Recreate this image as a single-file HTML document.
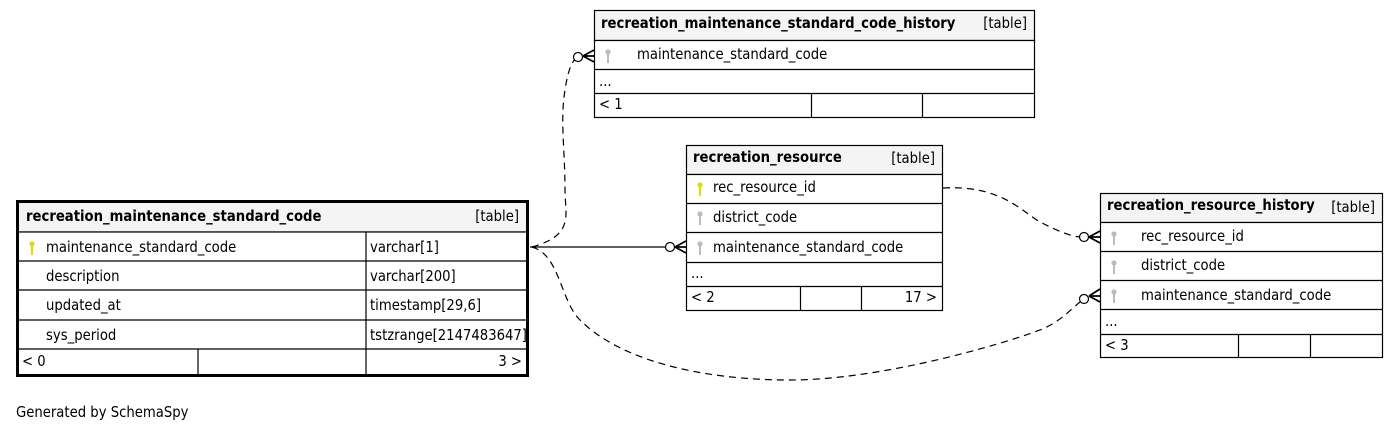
<!DOCTYPE html>
<html><head><meta charset="utf-8"><style>
html,body{margin:0;padding:0;background:#fff;}
svg{display:block;font-family:"DejaVu Sans Condensed","Liberation Sans",sans-serif;font-size:14.7px;}
.b{font-weight:bold;}
</style></head><body>
<svg width="1397" height="432" viewBox="0 0 1397 432" xmlns="http://www.w3.org/2000/svg">
<defs>
<g id="key"><circle cx="0" cy="-4" r="2.6"/><rect x="-1" y="-2" width="2" height="9"/></g>
</defs>
<g fill="none" stroke="#000" stroke-width="1.2">
<path d="M530,247 L670,247" stroke-width="1.3"/>
<path d="M532,247 C575,235 565,215 565,190 C565,150 560,120 565,90 C568,70 572,60 578,57" stroke-dasharray="7,5"/>
<path d="M943,188 C1000,185 1020,210 1040,222 C1060,232 1070,236 1080,237" stroke-dasharray="7,5"/>
<path d="M532,247 C560,255 560,300 580,320 C620,360 700,380 790,380 C880,380 1000,345 1040,330 C1060,322 1070,310 1080,302" stroke-dasharray="7,5"/>
</g>
<g fill="none" stroke="#000" stroke-width="1.8">
<circle cx="670" cy="247" r="4.5" fill="#fff" stroke-width="1.2"/>
<path d="M675,247 L686,241 M675,247 L686,253 M675,247 L686,247"/>
<circle cx="578" cy="57" r="4.5" fill="#fff" stroke-width="1.2"/>
<path d="M583,56 L594,50 M583,56 L594,62 M583,56 L594,56"/>
<circle cx="1084" cy="237" r="4.5" fill="#fff" stroke-width="1.2"/>
<path d="M1089,237 L1100,231 M1089,237 L1100,243 M1089,237 L1100,237"/>
<circle cx="1084" cy="299" r="4.5" fill="#fff" stroke-width="1.2"/>
<path d="M1089,296 L1100,289 M1089,296 L1100,302 M1089,296 L1100,296"/>
</g>

<g stroke="#000" stroke-width="1.2">
<rect x="18" y="202" width="509" height="30" fill="#f4f4f4"/>
<rect x="18" y="232" width="509" height="143" fill="#fff"/>
<path d="M18,261 H527 M18,290 H527 M18,320 H527 M18,349 H527 M366,232 V375 M198,349 V375" fill="none"/>
<rect x="17.5" y="201.5" width="510" height="174" fill="none" stroke-width="3"/>
</g>
<use href="#key" x="32" y="248" fill="#dede00"/>
<text x="26" y="221" class="b">recreation_maintenance_standard_code</text>
<text x="519" y="221" text-anchor="end">[table]</text>
<text x="46" y="252">maintenance_standard_code</text><text x="370" y="252">varchar[1]</text>
<text x="46" y="281">description</text><text x="370" y="281">varchar[200]</text>
<text x="46" y="310">updated_at</text><text x="370" y="310">timestamp[29,6]</text>
<text x="46" y="340">sys_period</text><text x="370" y="340">tstzrange[2147483647]</text>
<text x="22" y="366">&lt; 0</text><text x="522" y="366" text-anchor="end">3 &gt;</text>

<g stroke="#000" stroke-width="1.2">
<rect x="594.5" y="10.5" width="440" height="30" fill="#f4f4f4"/>
<rect x="594.5" y="40.5" width="440" height="77" fill="#fff"/>
<path d="M594,69.5 H1035 M594,93.5 H1035 M811.5,93 V117 M922.5,93 V117" fill="none"/>
</g>
<use href="#key" x="608" y="56" fill="#bbb"/>
<text x="601" y="28" class="b">recreation_maintenance_standard_code_history</text>
<text x="1027" y="28" text-anchor="end">[table]</text>
<text x="637" y="59">maintenance_standard_code</text>
<text x="599" y="86">...</text>
<text x="599" y="109">&lt; 1</text>

<g stroke="#000" stroke-width="1.2">
<rect x="686.5" y="145.5" width="256" height="29" fill="#f4f4f4"/>
<rect x="686.5" y="174.5" width="256" height="136" fill="#fff"/>
<path d="M686,203.5 H943 M686,232.5 H943 M686,262.5 H943 M686,286.5 H943 M800.5,286 V311 M861.5,286 V311" fill="none"/>
</g>
<use href="#key" x="700" y="189" fill="#dede00"/>
<use href="#key" x="700" y="218" fill="#bbb"/>
<use href="#key" x="700" y="248" fill="#bbb"/>
<text x="693" y="162" class="b">recreation_resource</text>
<text x="935" y="163" text-anchor="end">[table]</text>
<text x="713" y="192">rec_resource_id</text>
<text x="713" y="222">district_code</text>
<text x="713" y="252">maintenance_standard_code</text>
<text x="691" y="278">...</text>
<text x="691" y="302">&lt; 2</text><text x="937" y="302" text-anchor="end">17 &gt;</text>

<g stroke="#000" stroke-width="1.2">
<rect x="1100.5" y="193.5" width="282" height="29" fill="#f4f4f4"/>
<rect x="1100.5" y="222.5" width="282" height="135" fill="#fff"/>
<path d="M1100,251.5 H1383 M1100,280.5 H1383 M1100,309.5 H1383 M1100,334.5 H1383 M1238.5,334 V358 M1310.5,334 V358" fill="none"/>
</g>
<use href="#key" x="1114" y="238" fill="#bbb"/>
<use href="#key" x="1114" y="267" fill="#bbb"/>
<use href="#key" x="1114" y="296" fill="#bbb"/>
<text x="1107" y="210" class="b">recreation_resource_history</text>
<text x="1375" y="212" text-anchor="end">[table]</text>
<text x="1141" y="241">rec_resource_id</text>
<text x="1141" y="270">district_code</text>
<text x="1141" y="300">maintenance_standard_code</text>
<text x="1105" y="326">...</text>
<text x="1105" y="350">&lt; 3</text>

<text x="16" y="417">Generated by SchemaSpy</text>
</svg>
</body></html>
